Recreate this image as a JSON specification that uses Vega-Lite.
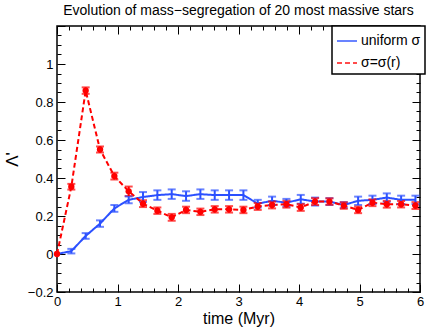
{
  "$schema": "https://vega.github.io/schema/vega-lite/v6.json",
  "width": 363,
  "height": 266,
  "autosize": {"type": "none"},
  "padding": {"left": 57, "top": 26, "right": 6, "bottom": 35},
  "background": "white",
  "title": {"text": "Evolution of mass−segregation of 20 most massive stars", "fontSize": 14, "font": "Liberation Sans", "fontWeight": "normal", "color": "black", "offset": 7, "anchor": "middle"},
  "config": {
    "view": {"stroke": "black", "strokeWidth": 1.5},
    "axis": {"grid": false, "domain": false, "labelFlush": false, "labelFont": "Liberation Sans", "titleFont": "Liberation Sans", "labelColor": "black", "titleColor": "black", "tickColor": "black", "titleFontWeight": "normal"},
    "legend": {"strokeColor": "black", "strokeWidth": 1.5, "fillColor": "white", "padding": 4, "symbolType": "stroke", "symbolSize": 400, "symbolStrokeWidth": 2, "labelFontSize": 14, "labelFont": "Liberation Sans", "labelColor": "black", "labelOffset": 3, "rowPadding": 4, "title": null}
  },
  "datasets": {
    "d": [
      {"s": "uniform σ", "t": 0.000, "y": 0.000, "lo": 0.000, "hi": 0.000},
      {"s": "uniform σ", "t": 0.237, "y": 0.015, "lo": 0.003, "hi": 0.027},
      {"s": "uniform σ", "t": 0.474, "y": 0.095, "lo": 0.080, "hi": 0.110},
      {"s": "uniform σ", "t": 0.711, "y": 0.160, "lo": 0.143, "hi": 0.177},
      {"s": "uniform σ", "t": 0.948, "y": 0.240, "lo": 0.222, "hi": 0.258},
      {"s": "uniform σ", "t": 1.185, "y": 0.285, "lo": 0.267, "hi": 0.303},
      {"s": "uniform σ", "t": 1.422, "y": 0.300, "lo": 0.274, "hi": 0.326},
      {"s": "uniform σ", "t": 1.659, "y": 0.310, "lo": 0.285, "hi": 0.335},
      {"s": "uniform σ", "t": 1.896, "y": 0.315, "lo": 0.290, "hi": 0.340},
      {"s": "uniform σ", "t": 2.133, "y": 0.305, "lo": 0.280, "hi": 0.330},
      {"s": "uniform σ", "t": 2.370, "y": 0.315, "lo": 0.290, "hi": 0.340},
      {"s": "uniform σ", "t": 2.607, "y": 0.310, "lo": 0.285, "hi": 0.335},
      {"s": "uniform σ", "t": 2.844, "y": 0.310, "lo": 0.285, "hi": 0.335},
      {"s": "uniform σ", "t": 3.081, "y": 0.310, "lo": 0.285, "hi": 0.335},
      {"s": "uniform σ", "t": 3.318, "y": 0.265, "lo": 0.245, "hi": 0.285},
      {"s": "uniform σ", "t": 3.555, "y": 0.280, "lo": 0.258, "hi": 0.302},
      {"s": "uniform σ", "t": 3.792, "y": 0.270, "lo": 0.250, "hi": 0.290},
      {"s": "uniform σ", "t": 4.029, "y": 0.288, "lo": 0.265, "hi": 0.311},
      {"s": "uniform σ", "t": 4.266, "y": 0.276, "lo": 0.255, "hi": 0.297},
      {"s": "uniform σ", "t": 4.503, "y": 0.276, "lo": 0.258, "hi": 0.294},
      {"s": "uniform σ", "t": 4.740, "y": 0.258, "lo": 0.243, "hi": 0.273},
      {"s": "uniform σ", "t": 4.977, "y": 0.280, "lo": 0.258, "hi": 0.302},
      {"s": "uniform σ", "t": 5.214, "y": 0.285, "lo": 0.263, "hi": 0.307},
      {"s": "uniform σ", "t": 5.451, "y": 0.297, "lo": 0.275, "hi": 0.319},
      {"s": "uniform σ", "t": 5.688, "y": 0.285, "lo": 0.263, "hi": 0.307},
      {"s": "uniform σ", "t": 5.925, "y": 0.285, "lo": 0.263, "hi": 0.307},
      {"s": "σ=σ(r)", "t": 0.000, "y": 0.000, "lo": 0.000, "hi": 0.000},
      {"s": "σ=σ(r)", "t": 0.237, "y": 0.354, "lo": 0.339, "hi": 0.369},
      {"s": "σ=σ(r)", "t": 0.474, "y": 0.860, "lo": 0.843, "hi": 0.877},
      {"s": "σ=σ(r)", "t": 0.711, "y": 0.550, "lo": 0.534, "hi": 0.566},
      {"s": "σ=σ(r)", "t": 0.948, "y": 0.410, "lo": 0.392, "hi": 0.428},
      {"s": "σ=σ(r)", "t": 1.185, "y": 0.330, "lo": 0.305, "hi": 0.355},
      {"s": "σ=σ(r)", "t": 1.422, "y": 0.265, "lo": 0.247, "hi": 0.283},
      {"s": "σ=σ(r)", "t": 1.659, "y": 0.228, "lo": 0.211, "hi": 0.245},
      {"s": "σ=σ(r)", "t": 1.896, "y": 0.193, "lo": 0.175, "hi": 0.211},
      {"s": "σ=σ(r)", "t": 2.133, "y": 0.232, "lo": 0.215, "hi": 0.249},
      {"s": "σ=σ(r)", "t": 2.370, "y": 0.222, "lo": 0.205, "hi": 0.239},
      {"s": "σ=σ(r)", "t": 2.607, "y": 0.235, "lo": 0.218, "hi": 0.252},
      {"s": "σ=σ(r)", "t": 2.844, "y": 0.235, "lo": 0.218, "hi": 0.252},
      {"s": "σ=σ(r)", "t": 3.081, "y": 0.232, "lo": 0.215, "hi": 0.249},
      {"s": "σ=σ(r)", "t": 3.318, "y": 0.250, "lo": 0.232, "hi": 0.268},
      {"s": "σ=σ(r)", "t": 3.555, "y": 0.258, "lo": 0.240, "hi": 0.276},
      {"s": "σ=σ(r)", "t": 3.792, "y": 0.262, "lo": 0.244, "hi": 0.280},
      {"s": "σ=σ(r)", "t": 4.029, "y": 0.245, "lo": 0.227, "hi": 0.263},
      {"s": "σ=σ(r)", "t": 4.266, "y": 0.276, "lo": 0.258, "hi": 0.294},
      {"s": "σ=σ(r)", "t": 4.503, "y": 0.276, "lo": 0.259, "hi": 0.293},
      {"s": "σ=σ(r)", "t": 4.740, "y": 0.255, "lo": 0.238, "hi": 0.272},
      {"s": "σ=σ(r)", "t": 4.977, "y": 0.232, "lo": 0.215, "hi": 0.249},
      {"s": "σ=σ(r)", "t": 5.214, "y": 0.270, "lo": 0.252, "hi": 0.288},
      {"s": "σ=σ(r)", "t": 5.451, "y": 0.262, "lo": 0.244, "hi": 0.280},
      {"s": "σ=σ(r)", "t": 5.688, "y": 0.262, "lo": 0.245, "hi": 0.279},
      {"s": "σ=σ(r)", "t": 5.925, "y": 0.255, "lo": 0.237, "hi": 0.273}
    ]
  },
  "data": {"name": "d"},
  "resolve": {"axis": {"x": "independent", "y": "independent"}},
  "layer": [
    {
      "transform": [{"filter": "datum.s === 'uniform σ'"}],
      "mark": {"type": "line", "strokeWidth": 2},
      "encoding": {
        "x": {"field": "t", "type": "quantitative", "scale": {"domain": [0, 6], "nice": false, "zero": false},
          "axis": {"orient": "bottom", "values": [0, 1, 2, 3, 4, 5, 6], "ticks": false, "labelPadding": 3, "labelFontSize": 13, "format": "~g", "title": "time (Myr)", "titleFontSize": 16, "titlePadding": 2}},
        "y": {"field": "y", "type": "quantitative", "scale": {"domain": [-0.2, 1.2], "nice": false, "zero": false},
          "axis": {"orient": "left", "values": [-0.2, 0, 0.2, 0.4, 0.6, 0.8, 1], "ticks": false, "labelPadding": 4, "labelFontSize": 13, "format": "~g", "title": "Λ'", "titleFontSize": 17, "titlePadding": 6}},
        "color": {"field": "s", "type": "nominal", "scale": {"domain": ["uniform σ", "σ=σ(r)"], "range": ["#2b50ff", "#ff0000"]}, "legend": {"orient": "none", "legendX": 275, "legendY": 0}},
        "strokeDash": {"field": "s", "type": "nominal", "scale": {"domain": ["uniform σ", "σ=σ(r)"], "range": [[1, 0], [5, 3]]}, "legend": {"orient": "none", "legendX": 275, "legendY": 0}}
      }
    },
    {
      "transform": [{"filter": "datum.s === 'σ=σ(r)'"}],
      "mark": {"type": "line", "strokeWidth": 2},
      "encoding": {
        "x": {"field": "t", "type": "quantitative", "axis": null},
        "y": {"field": "y", "type": "quantitative", "axis": null},
        "color": {"field": "s", "type": "nominal"},
        "strokeDash": {"field": "s", "type": "nominal"}
      }
    },
    {
      "transform": [{"filter": "datum.t > 0"}],
      "mark": {"type": "errorbar", "ticks": {"size": 8, "thickness": 2}, "rule": {"strokeWidth": 2}},
      "encoding": {
        "x": {"field": "t", "type": "quantitative", "axis": null},
        "y": {"field": "lo", "type": "quantitative", "axis": null, "title": null},
        "y2": {"field": "hi"},
        "color": {"field": "s", "type": "nominal"}
      }
    },
    {
      "transform": [{"filter": "datum.s === 'σ=σ(r)'"}],
      "mark": {"type": "point", "filled": true, "size": 40, "opacity": 1, "color": "#ff0000"},
      "encoding": {
        "x": {"field": "t", "type": "quantitative", "axis": null},
        "y": {"field": "y", "type": "quantitative", "axis": null}
      }
    },
    {
      "mark": {"type": "point", "opacity": 0},
      "encoding": {
        "x": {"field": "t", "type": "quantitative", "axis": {"orient": "bottom", "values": [0, 1, 2, 3, 4, 5, 6], "labels": false, "tickSize": -8, "tickWidth": 1, "title": null}},
        "y": {"field": "y", "type": "quantitative", "axis": {"orient": "left", "values": [-0.2, 0, 0.2, 0.4, 0.6, 0.8, 1, 1.2], "labels": false, "tickSize": -8, "tickWidth": 1, "title": null}}
      }
    },
    {
      "mark": {"type": "point", "opacity": 0},
      "encoding": {
        "x": {"field": "t", "type": "quantitative", "axis": {"orient": "bottom", "values": [0.2, 0.4, 0.6, 0.8, 1.2, 1.4, 1.6, 1.8, 2.2, 2.4, 2.6, 2.8, 3.2, 3.4, 3.6, 3.8, 4.2, 4.4, 4.6, 4.8, 5.2, 5.4, 5.6, 5.8], "labels": false, "tickSize": -4, "tickWidth": 1, "title": null}},
        "y": {"field": "y", "type": "quantitative", "axis": {"orient": "left", "values": [-0.15, -0.1, -0.05, 0.05, 0.1, 0.15, 0.25, 0.3, 0.35, 0.45, 0.5, 0.55, 0.65, 0.7, 0.75, 0.85, 0.9, 0.95, 1.05, 1.1, 1.15], "labels": false, "tickSize": -4, "tickWidth": 1, "title": null}}
      }
    },
    {
      "mark": {"type": "point", "opacity": 0},
      "encoding": {
        "x": {"field": "t", "type": "quantitative", "axis": {"orient": "top", "values": [0, 1, 2, 3, 4, 5, 6], "labels": false, "tickSize": -8, "tickWidth": 1, "title": null}},
        "y": {"field": "y", "type": "quantitative", "axis": {"orient": "right", "values": [-0.2, 0, 0.2, 0.4, 0.6, 0.8, 1, 1.2], "labels": false, "tickSize": -8, "tickWidth": 1, "title": null}}
      }
    },
    {
      "mark": {"type": "point", "opacity": 0},
      "encoding": {
        "x": {"field": "t", "type": "quantitative", "axis": {"orient": "top", "values": [0.2, 0.4, 0.6, 0.8, 1.2, 1.4, 1.6, 1.8, 2.2, 2.4, 2.6, 2.8, 3.2, 3.4, 3.6, 3.8, 4.2, 4.4, 4.6, 4.8, 5.2, 5.4, 5.6, 5.8], "labels": false, "tickSize": -4, "tickWidth": 1, "title": null}},
        "y": {"field": "y", "type": "quantitative", "axis": {"orient": "right", "values": [-0.15, -0.1, -0.05, 0.05, 0.1, 0.15, 0.25, 0.3, 0.35, 0.45, 0.5, 0.55, 0.65, 0.7, 0.75, 0.85, 0.9, 0.95, 1.05, 1.1, 1.15], "labels": false, "tickSize": -4, "tickWidth": 1, "title": null}}
      }
    }
  ]
}
